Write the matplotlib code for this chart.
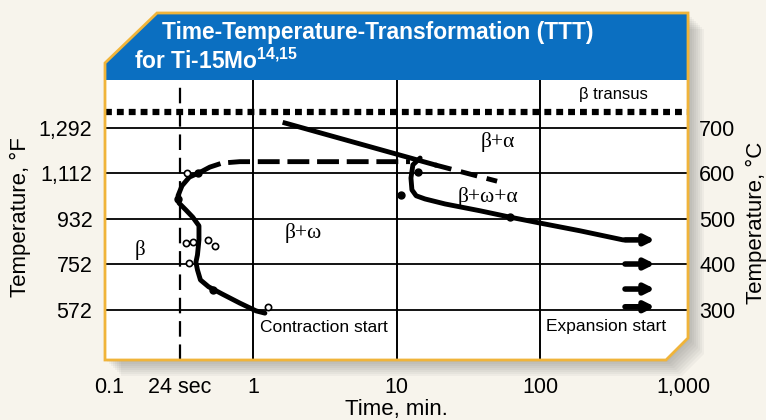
import matplotlib
matplotlib.use('Agg')
import matplotlib.pyplot as plt
from matplotlib.patches import Polygon

plt.rcParams['font.family'] = ['Liberation Sans', 'DejaVu Sans']
plt.rcParams['mathtext.fontset'] = 'custom'
plt.rcParams['mathtext.bf'] = 'Liberation Sans:bold'
plt.rcParams['mathtext.rm'] = 'Liberation Sans'

# --- data (time in min, temperature in C) ---
temp_ticks_c = [300, 400, 500, 600, 700]
temp_labels_f = ['572', '752', '932', '1,112', '1,292']
temp_labels_c = ['300', '400', '500', '600', '700']
time_ticks = [0.1, 0.31, 1, 10, 100, 1000]
time_labels = ['0.1', '24 sec', '1', '10', '100', '1,000']
time_grid = [1, 10, 100]
beta_transus = 735
sec24 = 0.31

# omega start (contraction) C-curve, solid part
omega_t = [0.43, 0.36, 0.32, 0.30, 0.305, 0.34, 0.38, 0.42, 0.42, 0.41, 0.40,
           0.41, 0.43, 0.49, 0.61, 0.81, 1.05, 1.21]
omega_T = [603, 592, 573, 551, 535, 520, 504, 485, 454, 421, 405,
           388, 366, 351, 335, 315, 298, 293]
# dashed top of the C-curve
omega_top_t = [0.43, 0.50, 0.61, 0.81, 12.4]
omega_top_T = [603, 614, 623, 626, 626]

# beta+alpha boundary
alpha_line_t = [1.67, 18.5]
alpha_line_T = [711, 619]
alpha_dash_t = [18.5, 50.2]
alpha_dash_T = [619, 583]

# alpha start (expansion) curve
exp_t = [14.6, 13.0, 12.6, 12.8, 13.7, 15.8, 21.8, 38.2, 61.8, 100, 190, 379]
exp_T = [634, 619, 590, 564, 551, 544, 533, 518, 504, 491, 474, 454]

# arrows (still running at end of test)
arrow_T = [454, 401, 346, 307]
arrow_t0 = 391
arrow_t1 = 633

open_t = [0.345, 0.340, 0.384, 0.488, 0.544, 0.360, 1.272]
open_T = [602, 448, 450, 454, 441, 403, 307]
dot_t = [0.416, 0.302, 0.529, 14.1, 10.7, 61.8]
dot_T = [600, 543, 344, 604, 553, 505]

W, H = 766, 420


def fx(px):
    return px / W


def fy(py):
    return 1 - py / H


fig = plt.figure(figsize=(W / 100, H / 100), dpi=100, facecolor='#f7f4ec')

# panel outline in pixel coords
panel = [(105, 63), (157, 13), (688, 13), (688, 338), (666, 360), (105, 360)]
panel_f = [(fx(x), fy(y)) for x, y in panel]

# soft shadow
for k in range(1, 9):
    sh = [(fx(x + 2 * k), fy(y + 2 * k)) for x, y in panel]
    fig.patches.append(Polygon(sh, closed=True, transform=fig.transFigure,
                               facecolor='#505050', edgecolor='none',
                               alpha=0.05, zorder=-5))
fig.patches.append(Polygon(panel_f, closed=True, transform=fig.transFigure,
                           facecolor='white', edgecolor='none', zorder=-3))

header = [(105, 63), (157, 13), (688, 13), (688, 80), (105, 80)]
fig.patches.append(Polygon([(fx(x), fy(y)) for x, y in header], closed=True,
                           transform=fig.transFigure, facecolor='#0b6fc1',
                           edgecolor='none', zorder=2))
fig.patches.append(Polygon(panel_f, closed=True, transform=fig.transFigure,
                           facecolor='none', edgecolor='#f0b43a', lw=2,
                           zorder=3))

fig.text(fx(162), fy(33), 'Time-Temperature-Transformation (TTT)',
         color='white', fontweight='bold', fontsize=16.4, va='center', ha='left', zorder=4)
fig.text(fx(134), fy(61), r'for Ti-15Mo$^{\mathbf{14{,}15}}$',
         color='white', fontweight='bold', fontsize=16.4, va='center', ha='left', zorder=4)

ax = fig.add_axes([fx(105), fy(360), (688 - 105) / W, (360 - 80) / H])
ax.set_facecolor('none')
ax.set_xscale('log')
ax.set_xlim(0.093, 1074)
ax.set_ylim(190, 805.5)
for s in ax.spines.values():
    s.set_visible(False)

# grid
for T in temp_ticks_c:
    ax.axhline(T, color='black', lw=1.3, zorder=1)
for t in time_grid:
    ax.axvline(t, color='black', lw=1.4, zorder=1)
ax.axvline(sec24, color='black', lw=1.6, dashes=(7, 3.5), zorder=1)
ax.axhline(beta_transus, color='black', lw=4.5, dashes=(1.1, 0.8),
           solid_capstyle='butt', dash_capstyle='butt', zorder=2)

# curves
ax.plot(omega_t, omega_T, color='black', lw=3.5, solid_capstyle='round', zorder=3)
ax.plot(omega_top_t, omega_top_T, color='black', lw=3.5, dashes=(4.5, 1.6),
        dash_capstyle='butt', zorder=3)
ax.plot(alpha_line_t, alpha_line_T, color='black', lw=3.5, zorder=3)
ax.plot(alpha_dash_t, alpha_dash_T, color='black', lw=3.5, dashes=(3.5, 2),
        dash_capstyle='butt', zorder=3)
ax.plot(exp_t, exp_T, color='black', lw=3.5, solid_capstyle='round', zorder=3)

for T in arrow_T:
    ax.annotate('', xy=(arrow_t1, T), xytext=(arrow_t0, T),
                arrowprops=dict(arrowstyle='-|>', lw=4, color='black',
                                mutation_scale=14, shrinkA=0, shrinkB=0),
                zorder=4)

ax.plot(open_t, open_T, 'o', ms=4.5, mfc='white', mec='black', mew=1.2, zorder=5)
ax.plot(dot_t, dot_T, 'o', ms=5, color='black', zorder=5)

# region labels
serif = ['Liberation Serif', 'DejaVu Serif']
ax.text(0.163, 432, 'β', family=serif, fontsize=15, ha='center', va='center')
ax.text(2.23, 469, 'β+ω', family=serif, fontsize=15.5, ha='center', va='center')
ax.text(51, 669, 'β+α', family=serif, fontsize=15.5, ha='center', va='center')
ax.text(43.4, 548, 'β+ω+α', family=serif, fontsize=15.5, ha='center', va='center')
ax.text(323, 773, 'β transus', fontsize=12, ha='center', va='center')
ax.text(3.12, 261, 'Contraction start', fontsize=12.5, ha='center', va='center')
ax.text(288, 263, 'Expansion start', fontsize=12.5, ha='center', va='center')

ax.set_xticks(time_ticks)
ax.set_xticklabels(time_labels)
ax.minorticks_off()
ax.set_yticks(temp_ticks_c)
ax.set_yticklabels(temp_labels_f)
ax.tick_params(length=0, labelsize=15.5, pad=9)
ax.tick_params(axis='x', pad=12)

ax2 = ax.twinx()
ax2.set_ylim(ax.get_ylim())
ax2.set_yticks(temp_ticks_c)
ax2.set_yticklabels(temp_labels_c)
ax2.tick_params(length=0, labelsize=15.5, pad=8)
for s in ax2.spines.values():
    s.set_visible(False)

fig.text(fx(20), fy(217), 'Temperature, °F', rotation=90, fontsize=16,
         ha='center', va='center')
fig.text(fx(756), fy(223), 'Temperature, °C', rotation=90, fontsize=16,
         ha='center', va='center')
fig.text(fx(396), fy(410), 'Time, min.', fontsize=16, ha='center', va='center')

fig.savefig('out.png', dpi=100, facecolor=fig.get_facecolor())
